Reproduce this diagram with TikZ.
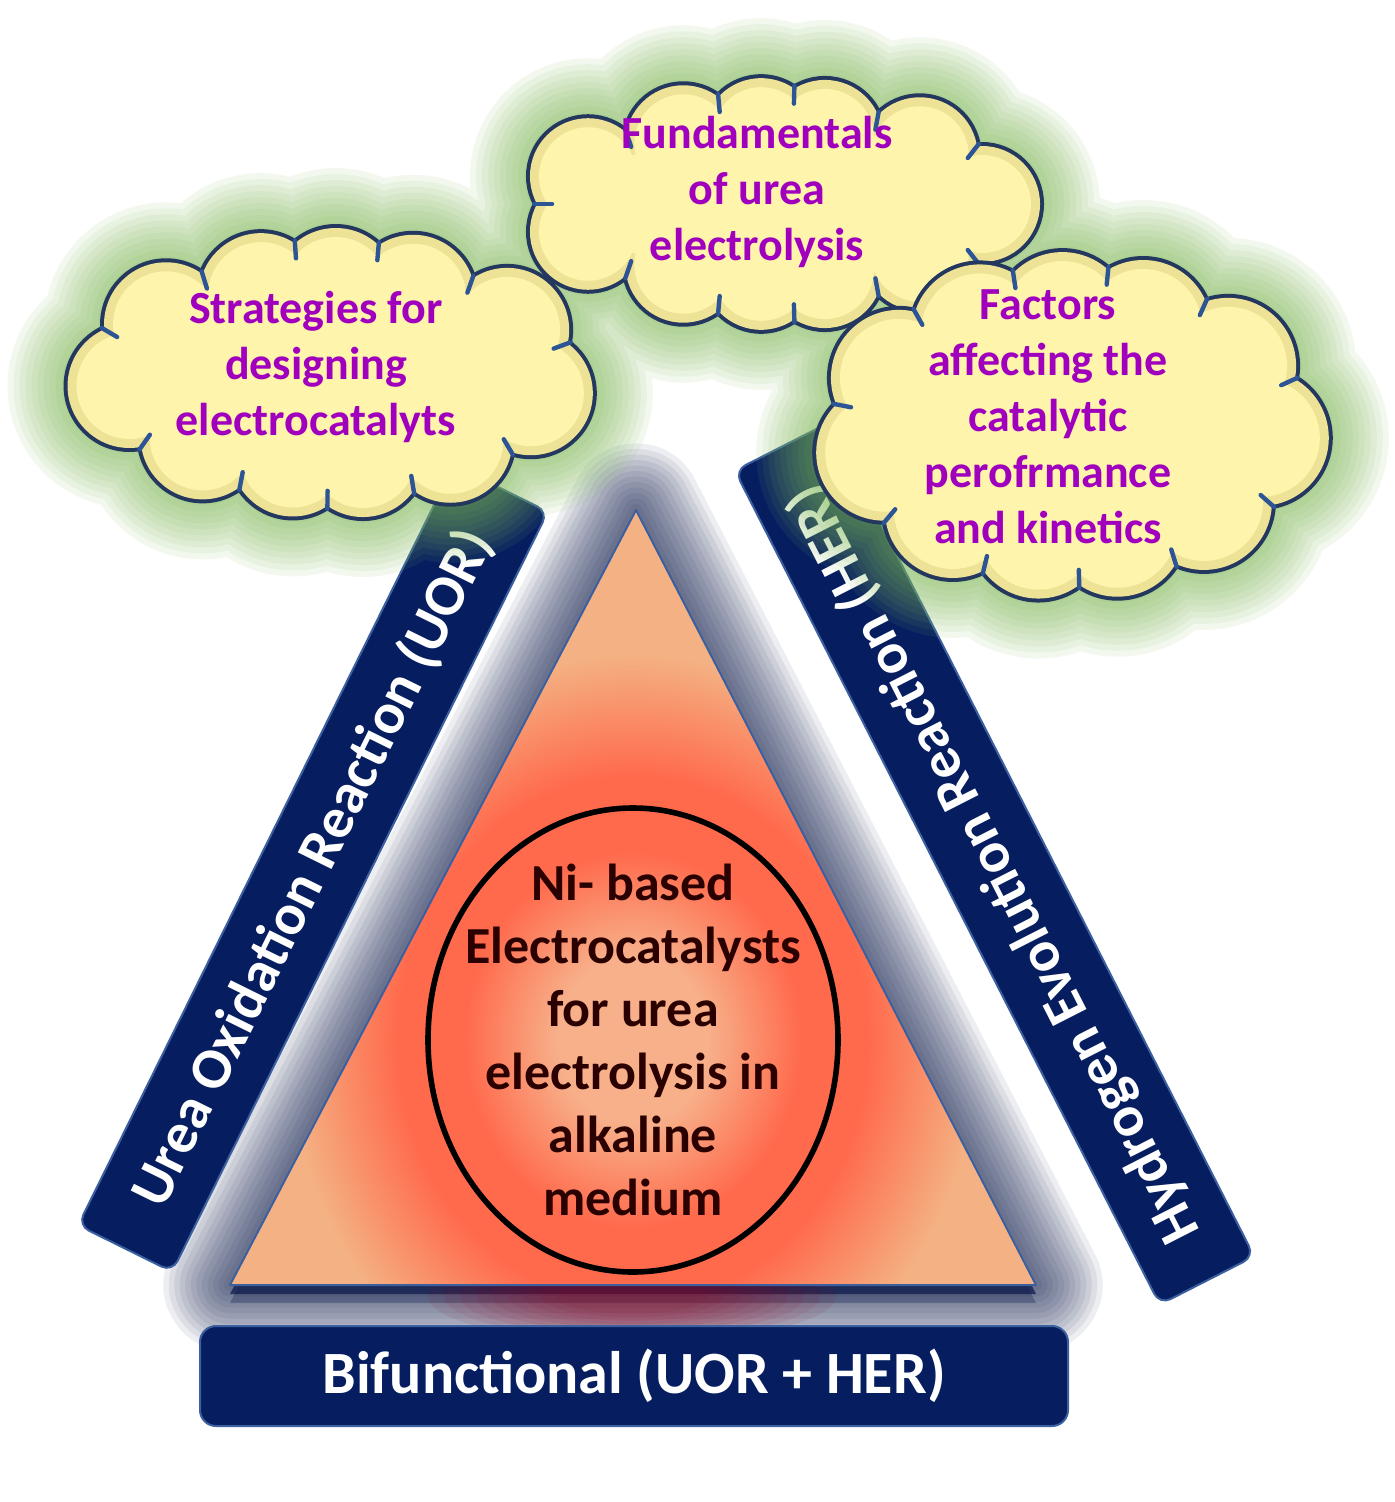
\documentclass[tikz,border=0pt]{standalone}
\usepackage{fontspec}
\setmainfont{Carlito}
\usetikzlibrary{calc,shapes.geometric}

\definecolor{navy}{RGB}{6,30,96}
\definecolor{navyedge}{RGB}{60,95,160}
\definecolor{navyglow}{RGB}{15,28,75}
\definecolor{tri}{RGB}{244,177,131}
\definecolor{corered}{RGB}{255,106,76}
\definecolor{corelight}{RGB}{247,176,138}
\definecolor{cloudrim}{RGB}{238,226,150}
\definecolor{cloudfill}{RGB}{255,244,172}
\definecolor{cloudline}{RGB}{35,55,95}
\definecolor{cloudtick}{RGB}{45,85,150}
\definecolor{glowgreen}{RGB}{125,185,85}
\definecolor{purpletext}{RGB}{160,0,190}
\definecolor{coretext}{RGB}{42,0,0}
\definecolor{maroon}{RGB}{150,0,30}

\pgfdeclareradialshading{coreglow}{\pgfpoint{0bp}{0bp}}{color(0bp)=(corelight); color(4.5bp)=(corelight); color(10bp)=(corered); color(14bp)=(corered); color(20.5bp)=(tri); color(50bp)=(tri)}

% cx cy a b n r offset e style
\newcommand\cloudpuffs[9]{%
  \path[#9] (#1,#2) ellipse[x radius=#3, y radius=#4];
  \foreach \k in {1,...,#5}{%
    \pgfmathsetmacro\clth{360*\k/#5+#7}%
    \pgfmathsetmacro\clt{\clth+#8*28.648*sin(2*\clth)}%
    \path[#9] ({#1+#3*cos(\clt)},{#2+#4*sin(\clt)}) circle[radius=#6];
  }%
}
% cx cy a b n r offset e
\newcommand\cloudticks[8]{%
  \foreach \k in {1,...,#5}{%
    \pgfmathsetmacro\clthA{360*\k/#5+#7}%
    \pgfmathsetmacro\clthB{360*(\k+1)/#5+#7}%
    \pgfmathsetmacro\cltA{\clthA+#8*28.648*sin(2*\clthA)}%
    \pgfmathsetmacro\cltB{\clthB+#8*28.648*sin(2*\clthB)}%
    \pgfmathsetmacro\clxA{#3*cos(\cltA)}\pgfmathsetmacro\clyA{#4*sin(\cltA)}%
    \pgfmathsetmacro\clxB{#3*cos(\cltB)}\pgfmathsetmacro\clyB{#4*sin(\cltB)}%
    \pgfmathsetmacro\clmx{(\clxA+\clxB)/2}\pgfmathsetmacro\clmy{(\clyA+\clyB)/2}%
    \pgfmathsetmacro\clhh{veclen(\clxB-\clxA,\clyB-\clyA)/2}%
    \pgfmathsetmacro\clux{(\clxB-\clxA)/(2*\clhh)}\pgfmathsetmacro\cluy{(\clyB-\clyA)/(2*\clhh)}%
    \pgfmathsetmacro\clsg{-\cluy*\clmx+\clux*\clmy}%
    \pgfmathsetmacro\clsgn{\clsg/abs(\clsg)}%
    \pgfmathsetmacro\clpx{-\cluy*\clsgn}\pgfmathsetmacro\clpy{\clux*\clsgn}%
    \pgfmathsetmacro\cldd{sqrt(max(#6*#6-\clhh*\clhh,0))}%
    \draw[cloudtickstyle] ({#1+\clmx+\clpx*(\cldd+3)},{#2+\clmy+\clpy*(\cldd+3)}) -- ++({-\clpx*18},{-\clpy*18});
  }%
}
\newcommand\allclouds[1]{%
  \cloudpuffs{776}{204}{206}{68}{11}{58}{0}{0.5}{#1}%
  \cloudpuffs{332}{373}{205}{83}{11}{62}{10}{0.42}{#1}%
  \cloudpuffs{1070}{426}{192}{106}{11}{68}{5}{0.29}{#1}%
}
\newcommand\onecloud[8]{%
  \cloudpuffs{#1}{#2}{#3}{#4}{#5}{#6}{#7}{#8}{draw=cloudline, line width=4pt}%
  \cloudpuffs{#1}{#2}{#3}{#4}{#5}{#6}{#7}{#8}{fill=cloudrim}%
  \pgfmathsetmacro\clrr{#6-9}%
  \cloudpuffs{#1}{#2}{#3}{#4}{#5}{\clrr}{#7}{#8}{fill=cloudfill}%
  \cloudticks{#1}{#2}{#3}{#4}{#5}{#6}{#7}{#8}%
}

\begin{document}
\begin{tikzpicture}[x=0.5pt,y=-0.5pt,
  cloudtext/.style={font=\bfseries\fontsize{23}{28}\selectfont, text=purpletext, align=center, inner sep=0pt},
  cloudtickstyle/.style={draw=cloudtick, line width=2.2pt, line cap=round},
  barbox/.style={fill=navy, draw=navyedge, line width=1pt, rounded corners=6pt, text=white,
    font=\bfseries\fontsize{29}{34}\selectfont, inner sep=0pt},
  coreellipse/.style={ellipse, draw=black, line width=2.8pt, inner sep=0pt,
    minimum width=205pt, minimum height=232pt},
  coretextstyle/.style={text=coretext, align=center, inner sep=0pt,
    font=\bfseries\fontsize{26}{31.5}\selectfont}]

\useasboundingbox (0,0) rectangle (1395,1502);
\fill[white] (0,0) rectangle (1395,1502);

% triangle corners
\coordinate (ta) at (636,510);
\coordinate (tb) at (230,1285);
\coordinate (tc) at (1036,1285);

% navy outer glow of triangle
\foreach \i in {1,...,12}{
  \pgfmathsetlengthmacro\glw{(72-5.5*\i)*1pt}
  \draw[navyglow, line width=\glw, opacity=0.075, line join=round] (ta) -- (tb) -- (tc) -- cycle;
}
% shadow under triangle
\fill[navyglow, opacity=0.3] ($(ta)+(0,18)$) -- ($(tb)+(0,18)$) -- ($(tc)+(0,18)$) -- cycle;
\fill[navyglow, opacity=0.75] ($(ta)+(0,9)$) -- ($(tb)+(0,9)$) -- ($(tc)+(0,9)$) -- cycle;
% maroon glow under centre
\foreach \i in {1,...,9}{
  \pgfmathsetmacro\mrx{60+16*\i}
  \pgfmathsetmacro\mry{14+3.6*\i}
  \fill[maroon, opacity=0.08] (632,1296) ellipse[x radius=\mrx, y radius=\mry];
}

% triangle body
\fill[tri] (ta) -- (tb) -- (tc) -- cycle;
\begin{scope}
  \clip (ta) -- (tb) -- (tc) -- cycle;
  \shade[shading=coreglow] (213,570) rectangle (1053,1510);
\end{scope}
\draw[navyedge, line width=1pt, line join=round] (ta) -- (tb) -- (tc) -- cycle;

% central ellipse with text
\node[coreellipse] (core) at (633,1040) {};
\node[coretextstyle] (coretxt) at (core.center) {Ni- based\\Electrocatalysts\\for urea\\electrolysis in\\alkaline\\medium};

% bars
\node[barbox, rotate=63.7, minimum width=424pt, minimum height=52.5pt] (uor) at (313,868.5) {Urea Oxidation Reaction (UOR)};
\node[barbox, rotate=117, minimum width=468pt, minimum height=53pt] (her) at (994.5,863.5) {Hydrogen Evolution Reaction (HER)};
\node[barbox, rounded corners=8pt, minimum width=434pt, minimum height=50pt, font=\bfseries\fontsize{30}{36}\selectfont] (bif) at (634,1376) {Bifunctional (UOR + HER)};

% green glow behind clouds
\foreach \i in {1,...,10}{
  \pgfmathsetlengthmacro\ggw{(66-6*\i)*1pt}
  \begin{scope}[transparency group, opacity=0.09]
    \allclouds{draw=glowgreen, fill=glowgreen, line width=\ggw, line join=round}
  \end{scope}
}

% clouds
\onecloud{776}{204}{206}{68}{11}{58}{0}{0.5}
\onecloud{332}{373}{205}{83}{11}{62}{10}{0.42}
\onecloud{1070}{426}{192}{106}{11}{68}{5}{0.29}

\node[cloudtext] (fund) at (757,192) {Fundamentals\\of urea\\electrolysis};
\node[cloudtext] (strat) at (316,367) {Strategies for\\designing\\electrocatalyts};
\node[cloudtext] (fact) at (1048,417) {Factors\\affecting the\\catalytic\\perofrmance\\and kinetics};

\end{tikzpicture}
\end{document}
